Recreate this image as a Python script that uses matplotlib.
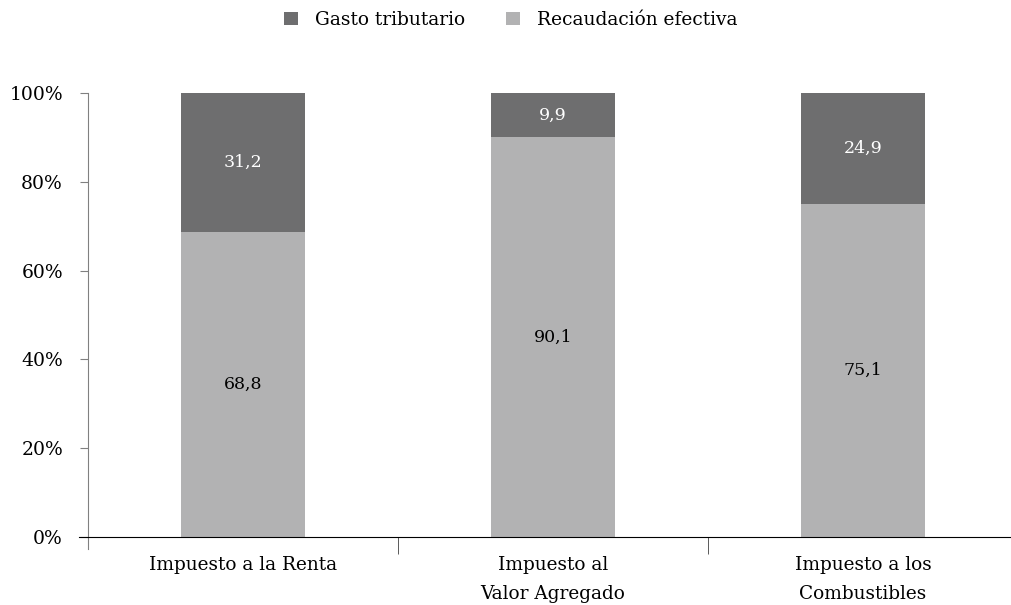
import matplotlib
matplotlib.use("Agg")
import matplotlib.pyplot as plt
from matplotlib.ticker import FuncFormatter

categories = ["Impuesto a la Renta", "Impuesto al\nValor Agregado", "Impuesto a los\nCombustibles"]
recaudacion = [68.8, 90.1, 75.1]
gasto = [31.2, 9.9, 24.9]
labels_rec = ["68,8", "90,1", "75,1"]
labels_gas = ["31,2", "9,9", "24,9"]

DARK = "#6e6e6f"
LIGHT = "#b2b2b3"

plt.rcParams["font.family"] = ["DejaVu Serif"]

fig = plt.figure(figsize=(10.11, 6.05), dpi=100)
ax = fig.add_axes([88 / 1011, 68 / 605, 930 / 1011, 444 / 605])

x = list(range(len(categories)))
ax.bar(x, recaudacion, width=0.4, color=LIGHT, label="Recaudación efectiva")
ax.bar(x, gasto, width=0.4, bottom=recaudacion, color=DARK, label="Gasto tributario")

for i in x:
    ax.text(i, recaudacion[i] / 2, labels_rec[i], ha="center", va="center",
            fontsize=12.5, color="black")
    ax.text(i, recaudacion[i] + gasto[i] / 2, labels_gas[i], ha="center", va="center",
            fontsize=12.5, color="white")

ax.set_xlim(-0.5, 2.5)
ax.set_ylim(0, 100)
ax.set_yticks([0, 20, 40, 60, 80, 100])
ax.yaxis.set_major_formatter(FuncFormatter(lambda v, p: f"{v:.0f}%"))
ax.tick_params(axis="y", length=6, color="#808080", labelsize=13.5, pad=12)

ax.set_xticks(x)
ax.set_xticklabels(categories, fontsize=13.3, linespacing=1.75)
ax.set_xticks([0.5, 1.5], minor=True)
ax.tick_params(axis="x", which="major", length=0, pad=14)
ax.tick_params(axis="x", which="minor", length=12, color="#404040")

for s in ["top", "right"]:
    ax.spines[s].set_visible(False)
ax.spines["left"].set_color("#808080")
ax.spines["left"].set_bounds(-2.6, 100)
ax.spines["bottom"].set_color("black")
ax.spines["bottom"].set_bounds(-0.53, 2.5)

handles, lbls = ax.get_legend_handles_labels()
fig.legend(handles[::-1], lbls[::-1], loc="center", bbox_to_anchor=(0.505, 0.967),
           ncol=2, frameon=False, fontsize=13.4, handlelength=0.75, handleheight=0.75,
           columnspacing=2.2, handletextpad=0.9)

fig.savefig("out.png", dpi=100)
